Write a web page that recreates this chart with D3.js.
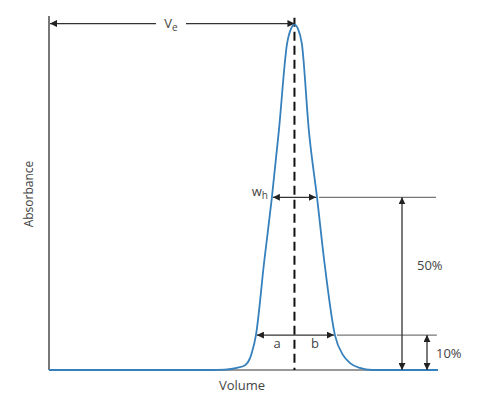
<!DOCTYPE html>
<html>
<head>
<meta charset="utf-8">
<script src="https://cdn.jsdelivr.net/npm/d3@7"></script>
<style>
  body { margin: 0; background: #fff; }
  text { font-family: "Open Sans", Lato, sans-serif; fill: #444; }
</style>
</head>
<body>
<svg id="chart" width="489" height="400"></svg>
<script>
// elution profile (volume 0-100, absorbance relative to peak)
const volume = [0, 41.4, 45.2, 48.3, 50.4, 51.7, 52.2, 53.2, 55.3, 57.3, 59.1, 61.2, 62.2, 63.1,
  64.0, 65.0, 66.8, 68.9, 70.8, 73.5, 75.6, 77.4, 79.9, 83.0, 100];
const absorbance = [0, 0, 0.001, 0.006, 0.014, 0.035, 0.052, 0.101, 0.312, 0.5, 0.694, 0.945, 0.988, 1.0,
  0.988, 0.945, 0.694, 0.5, 0.312, 0.101, 0.043, 0.02, 0.006, 0, 0];

const peakVolume = 63.1;
const halfHeight = 0.5, halfLeft = 57.3, halfRight = 68.9;
const tenthHeight = 0.101, tenthLeft = 53.2, tenthRight = 73.5;

const svg = d3.select('#chart');
const x = d3.scaleLinear().domain([0, 100]).range([49, 438]);
const y = d3.scaleLinear().domain([0, 1.025]).range([370, 16]);

const defs = svg.append('defs');
defs.append('marker')
  .attr('id', 'arr')
  .attr('viewBox', '0 0 10 10')
  .attr('refX', 10).attr('refY', 5)
  .attr('markerWidth', 7).attr('markerHeight', 7)
  .attr('markerUnits', 'userSpaceOnUse')
  .attr('orient', 'auto-start-reverse')
  .append('path').attr('d', 'M0,0L10,5L0,10z').attr('fill', '#222');

// axes (just the two lines, no ticks)
svg.append('line')
  .attr('x1', x(0)).attr('x2', x(0)).attr('y1', y(1.025)).attr('y2', y(0))
  .attr('stroke', '#777').attr('stroke-width', 2);
svg.append('line')
  .attr('x1', x(0)).attr('x2', x(100)).attr('y1', y(0)).attr('y2', y(0))
  .attr('stroke', '#777').attr('stroke-width', 1.5);

// guide lines at 50% and 10%
svg.append('line')
  .attr('x1', x(halfRight) + 2).attr('x2', x(99.5)).attr('y1', y(halfHeight)).attr('y2', y(halfHeight))
  .attr('stroke', '#777').attr('stroke-width', 1.2);
svg.append('line')
  .attr('x1', x(tenthRight) + 2).attr('x2', x(99.7)).attr('y1', y(tenthHeight)).attr('y2', y(tenthHeight))
  .attr('stroke', '#777').attr('stroke-width', 1.2);

// dashed line at the peak
svg.append('line')
  .attr('x1', x(peakVolume)).attr('x2', x(peakVolume)).attr('y1', y(1.02)).attr('y2', y(0))
  .attr('stroke', '#111').attr('stroke-width', 2)
  .attr('stroke-dasharray', '9,5');

// peak
svg.append('path')
  .datum(volume.map((v, i) => [v, absorbance[i]]))
  .attr('d', d3.line().x(d => x(d[0])).y(d => y(d[1])).curve(d3.curveMonotoneX))
  .attr('fill', 'none')
  .attr('stroke', '#3580bd')
  .attr('stroke-width', 1.8);

function arrow(x1, y1, x2, y2, both) {
  const l = svg.append('line')
    .attr('x1', x1).attr('y1', y1).attr('x2', x2).attr('y2', y2)
    .attr('stroke', '#333').attr('stroke-width', 1.3)
    .attr('marker-end', 'url(#arr)');
  if (both) l.attr('marker-start', 'url(#arr)');
}

// Ve
const veY = y(1.003);
arrow(x(0) + 1, veY, x(peakVolume), veY, true);
svg.append('rect').attr('x', 156).attr('y', veY - 9).attr('width', 30).attr('height', 18).attr('fill', '#fff');
const ve = svg.append('text').attr('x', 171).attr('y', veY + 4).attr('text-anchor', 'middle').attr('font-size', 13);
ve.append('tspan').text('V');
ve.append('tspan').attr('font-size', 10).attr('dy', 3).text('e');

// wh
arrow(x(halfLeft) + 1, y(halfHeight), x(halfRight) - 1, y(halfHeight), true);
const wh = svg.append('text').attr('x', 268).attr('y', y(halfHeight) - 1).attr('text-anchor', 'end').attr('font-size', 13);
wh.append('tspan').text('w');
wh.append('tspan').attr('font-size', 10).attr('dy', 3).text('h');

// a / b
arrow(x(tenthLeft) + 1, y(tenthHeight), x(tenthRight) - 1, y(tenthHeight), true);
svg.append('text').attr('x', 277).attr('y', 348).attr('text-anchor', 'middle').attr('font-size', 13).text('a');
svg.append('text').attr('x', 315).attr('y', 348).attr('text-anchor', 'middle').attr('font-size', 13).text('b');

// 50% and 10% heights
arrow(402, y(halfHeight), 402, y(0), true);
arrow(427, y(tenthHeight), 427, y(0), true);
svg.append('text').attr('x', 417).attr('y', 270).attr('font-size', 13).text('50%');
svg.append('text').attr('x', 436).attr('y', 358).attr('font-size', 13).text('10%');

// axis titles
svg.append('text').attr('x', 242).attr('y', 390).attr('text-anchor', 'middle').attr('font-size', 13).text('Volume');
svg.append('text')
  .attr('transform', 'translate(33,194) rotate(-90)')
  .attr('text-anchor', 'middle').attr('font-size', 12).text('Absorbance');
</script>
</body>
</html>
